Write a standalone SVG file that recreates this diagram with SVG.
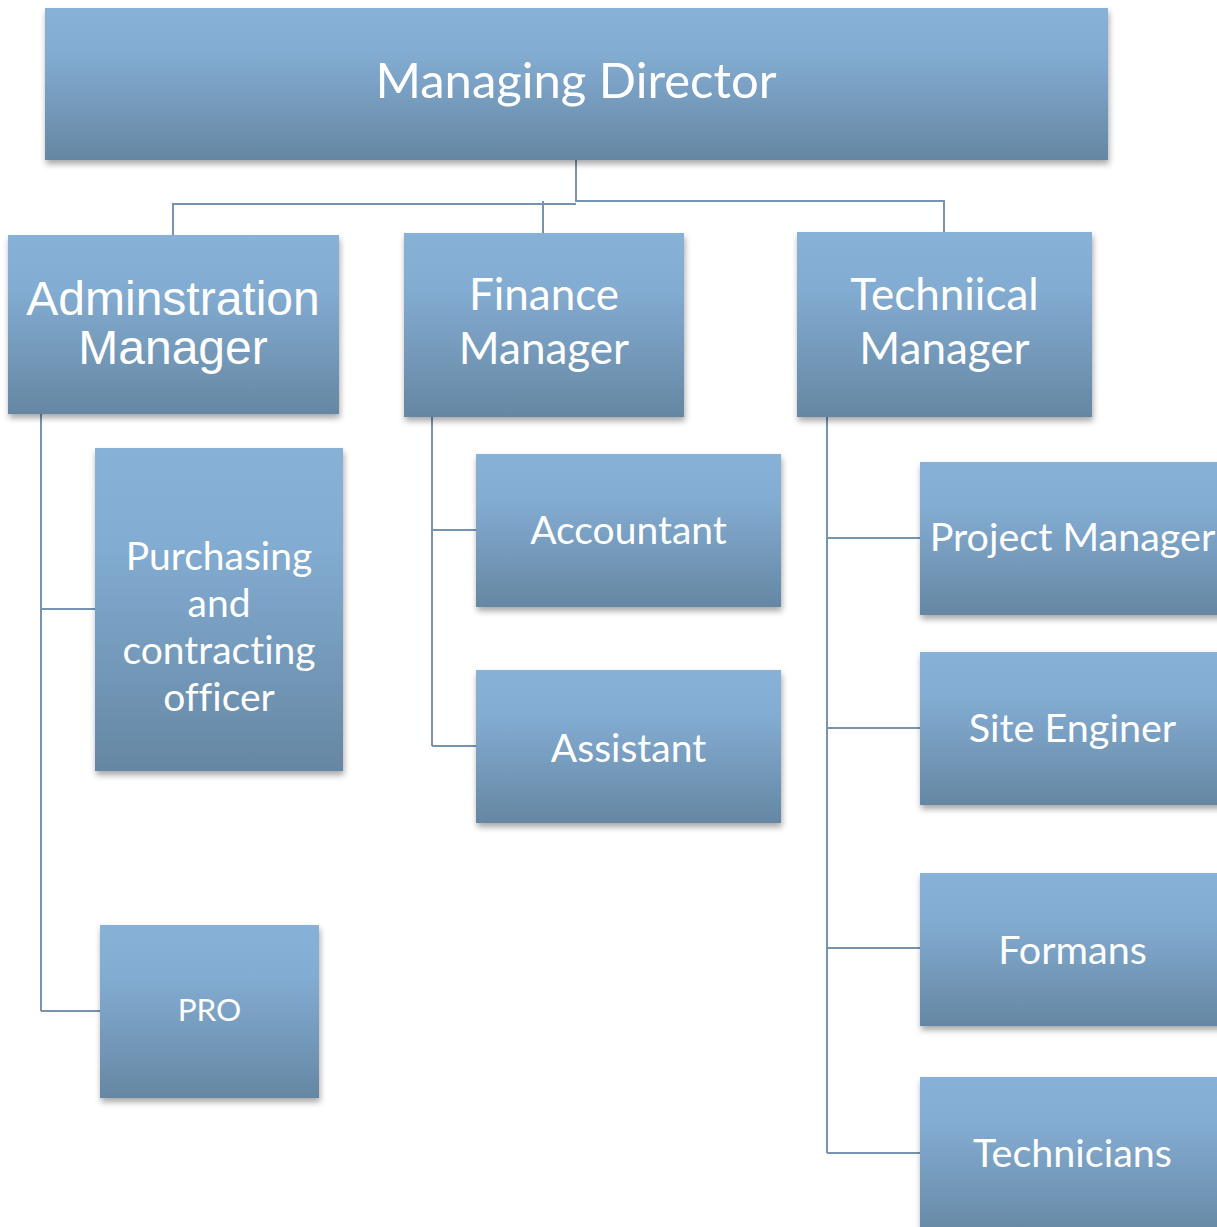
<svg xmlns="http://www.w3.org/2000/svg" width="1217" height="1227" viewBox="0 0 1217 1227">
<defs>
<linearGradient id="g" x1="0" y1="0" x2="0" y2="1">
<stop offset="0" stop-color="#87b1d7"/>
<stop offset="0.3" stop-color="#83acd2"/>
<stop offset="1" stop-color="#6587a3"/>
</linearGradient>
<filter id="sh" x="-10%" y="-10%" width="120%" height="130%">
<feDropShadow dx="1" dy="4" stdDeviation="3" flood-color="#000" flood-opacity="0.35"/>
</filter>
<style>
.box{fill:url(#g);filter:url(#sh);}
.t{fill:#fff;font-family:Lato,"Open Sans",sans-serif;text-anchor:middle;font-variant-ligatures:none;font-feature-settings:"liga" 0;}
.a{fill:#fff;font-family:"Liberation Sans",Arial,sans-serif;text-anchor:middle;font-size:48px;}
.c{fill:none;stroke:#7793ad;stroke-width:2;}
</style>
</defs>
<rect width="1217" height="1227" fill="#fff"/>
<g id="connectors">
<path class="c" d="M576 160V202M576 204H173V235M576 201H944V232M543 201V233"/>
<path class="c" d="M41 414V1011M41 609H95M41 1011H100"/>
<path class="c" d="M432 417V746M432 530H476M432 746H476"/>
<path class="c" d="M827 417V1153M827 538H920M827 728H920M827 948H920M827 1153H920"/>
</g>
<g id="md"><rect class="box" x="45" y="8" width="1063" height="152"/><text class="t" x="576" y="98" font-size="49">Managing Director</text></g>
<g id="admin"><rect class="box" x="8" y="235" width="331" height="179"/><text class="a" x="173" y="315">Adminstration</text><text class="a" x="173" y="364">Manager</text></g>
<g id="finance"><rect class="box" x="404" y="233" width="280" height="184"/><text class="t" x="544" y="310" font-size="44">Finance</text><text class="t" x="544" y="364" font-size="44">Manager</text></g>
<g id="technical"><rect class="box" x="797" y="232" width="295" height="185"/><text class="t" x="944.5" y="310" font-size="44">Techniical</text><text class="t" x="944.5" y="364" font-size="44">Manager</text></g>
<g id="purchasing"><rect class="box" x="95" y="448" width="248" height="323"/><text class="t" x="219" y="570" font-size="39">Purchasing</text><text class="t" x="219" y="617" font-size="39">and</text><text class="t" x="219" y="664" font-size="39">contracting</text><text class="t" x="219" y="711" font-size="39">officer</text></g>
<g id="pro"><rect class="box" x="100" y="925" width="219" height="173"/><text class="t" x="209.5" y="1021" font-size="31.5">PRO</text></g>
<g id="accountant"><rect class="box" x="476" y="454" width="305" height="153"/><text class="t" x="628.5" y="544" font-size="39">Accountant</text></g>
<g id="assistant"><rect class="box" x="476" y="670" width="305" height="153"/><text class="t" x="628.5" y="762" font-size="39">Assistant</text></g>
<g id="project-manager"><rect class="box" x="920" y="462" width="305" height="153"/><text class="t" x="1072.5" y="551" font-size="39.5">Project Manager</text></g>
<g id="site-engineer"><rect class="box" x="920" y="652" width="305" height="153"/><text class="t" x="1072.5" y="742" font-size="39.5">Site Enginer</text></g>
<g id="formans"><rect class="box" x="920" y="873" width="305" height="153"/><text class="t" x="1072.5" y="964" font-size="39.5">Formans</text></g>
<g id="technicians"><rect class="box" x="920" y="1077" width="305" height="160"/><text class="t" x="1072.5" y="1167" font-size="39.5">Technicians</text></g>
</svg>
